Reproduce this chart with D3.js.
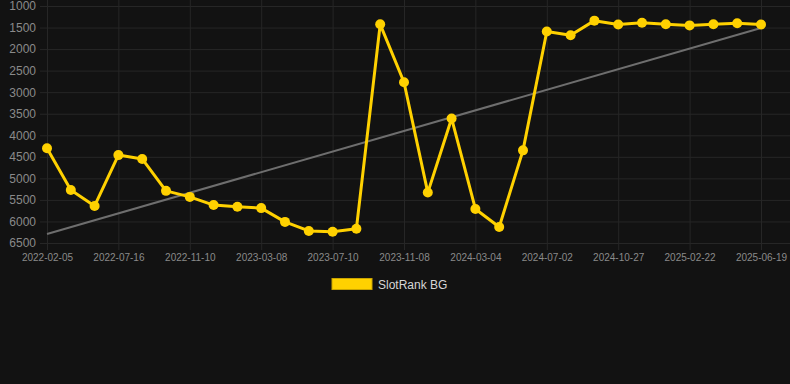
<!DOCTYPE html>
<html>
<head>
<meta charset="utf-8">
<script src="https://cdn.jsdelivr.net/npm/d3@7"></script>
<style>
  html, body { margin: 0; padding: 0; background: #121212; }
  svg { display: block; font-family: "Liberation Sans", Arial, sans-serif; }
</style>
</head>
<body>
<svg id="chart" width="790" height="384"></svg>
<script>
// ----------- DATA ------------
// x tick labels, one every 3rd point
const tickLabels = ["2022-02-05", "2022-07-16", "2022-11-10", "2023-03-08", "2023-07-10",
    "2023-11-08", "2024-03-04", "2024-07-02", "2024-10-27", "2025-02-22", "2025-06-19"];
// rank per point (lower is better, axis reversed)
const rankValues = [4300, 5270, 5640, 4460, 4550, 5290, 5430, 5620, 5660, 5690,
    6010, 6220, 6240, 6170, 1425, 2770, 5330, 3610, 5710, 6130,
    4350, 1590, 1680, 1340, 1430, 1390, 1425, 1450, 1425, 1400, 1430];
// trend line at first and last point
const trendValues = [6290, 1510];
const yTicks = [1000, 1500, 2000, 2500, 3000, 3500, 4000, 4500, 5000, 5500, 6000, 6500];
const seriesName = "SlotRank BG";

// ----------- LAYOUT ------------
const GOLD = "#ffd100";
const GRID = "#262626";
const TEXT = "#8a8a8a";

const svg = d3.select("#chart");
const xLeft = 47, xRight = 761, yTop = 6, yBottom = 243;

const indices = d3.range(rankValues.length);
const x = d3.scalePoint().domain(indices).range([xLeft, xRight]);
const y = d3.scaleLinear().domain([1000, 6500]).range([yTop, yBottom]);

// horizontal grid + y labels
const yAxis = d3.axisLeft(y)
    .tickValues(yTicks)
    .tickSize(-(790 - 40))
    .tickPadding(4)
    .tickFormat(d3.format("d"));
svg.append("g")
    .attr("transform", `translate(40,0)`)
    .call(yAxis)
    .call(g => g.select(".domain").remove())
    .call(g => g.selectAll("line").attr("stroke", GRID))
    .call(g => g.selectAll("text").attr("fill", TEXT).attr("font-size", 12).attr("x", -4));

// vertical grid + x labels, every 3rd point
const tickIdx = indices.filter(i => i % 3 === 0);
const xAxis = d3.axisBottom(x)
    .tickValues(tickIdx)
    .tickSize(-250)
    .tickPadding(10)
    .tickFormat(i => tickLabels[i / 3]);
svg.append("g")
    .attr("transform", `translate(0,250)`)
    .call(xAxis)
    .call(g => g.select(".domain").remove())
    .call(g => g.selectAll("line").attr("stroke", GRID))
    .call(g => g.selectAll("text").attr("fill", TEXT).attr("font-size", 10).attr("dy", "0.1em"));

// trend line
svg.append("line")
    .attr("x1", x(0)).attr("y1", y(trendValues[0]))
    .attr("x2", x(indices.length - 1)).attr("y2", y(trendValues[1]))
    .attr("stroke", "#6e6e6e")
    .attr("stroke-width", 2);

// series line
const line = d3.line()
    .x((d, i) => x(i))
    .y(d => y(d));
svg.append("path")
    .datum(rankValues)
    .attr("fill", "none")
    .attr("stroke", GOLD)
    .attr("stroke-width", 3)
    .attr("stroke-linejoin", "round")
    .attr("d", line);

svg.selectAll(".pt")
    .data(rankValues)
    .join("circle")
    .attr("class", "pt")
    .attr("cx", (d, i) => x(i))
    .attr("cy", d => y(d))
    .attr("r", 5)
    .attr("fill", GOLD);

// legend
const legend = svg.append("g");
legend.append("rect")
    .attr("x", 332).attr("y", 278.5)
    .attr("width", 40).attr("height", 11)
    .attr("fill", GOLD)
    .attr("stroke", "#c9a400")
    .attr("stroke-width", 1);
legend.append("text")
    .attr("x", 378).attr("y", 285)
    .attr("dy", "0.35em")
    .attr("fill", "#d6d6d6")
    .attr("font-size", 12)
    .text(seriesName);
</script>
</body>
</html>
